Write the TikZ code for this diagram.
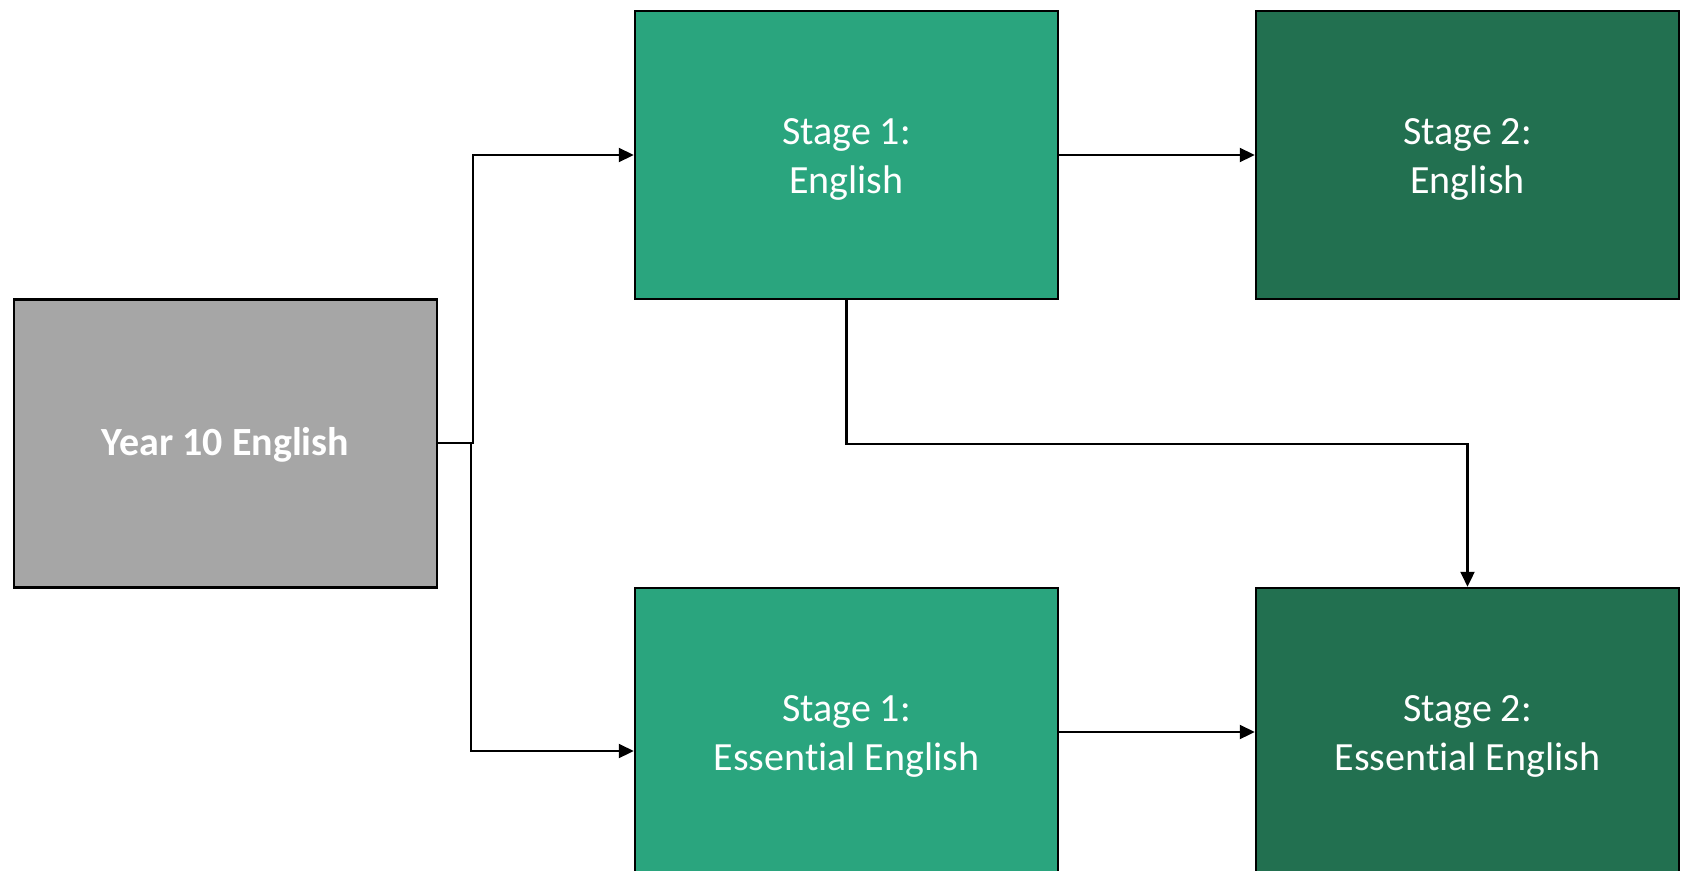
\documentclass[tikz,border=0pt]{standalone}
\usepackage{fontspec}
\setmainfont{Carlito}[Ligatures=NoCommon]
\usetikzlibrary{arrows.meta,calc}
\definecolor{greyfill}{RGB}{166,166,166}
\definecolor{stageone}{RGB}{42,165,126}
\definecolor{stagetwo}{RGB}{34,112,80}
\newcommand\boxtxt[2]{\raisebox{#1}[\height][\depth]{\begin{tabular}{@{}c@{}}#2\end{tabular}}}
\tikzset{
  box/.style={draw=black, line width=2.5pt, minimum width=423pt, minimum height=288pt,
    inner sep=0pt, align=center, text=white, font=\fontsize{40}{49}\selectfont},
  conn/.style={draw=black, line width=2.2pt, -{Triangle[length=15pt,width=14pt]}}
}
\begin{document}
\begin{tikzpicture}[x=1pt,y=-1pt]
\useasboundingbox (0,0) rectangle (1685,870);
\clip (0,0) rectangle (1685,870);
\node[box, fill=greyfill, font=\fontsize{40}{49}\selectfont\bfseries] (y10) at (225.5,443.5) {\boxtxt{-2pt}{Year 10 English}};
\node[box, fill=stageone] (s1e) at (846.5,155) {\boxtxt{-4pt}{Stage 1:\\English}};
\node[box, fill=stagetwo] (s2e) at (1467.5,155) {\boxtxt{-4pt}{Stage 2:\\English}};
\node[box, fill=stageone] (s1ee) at (846.5,732) {\boxtxt{-4pt}{Stage 1:\\Essential English}};
\node[box, fill=stagetwo] (s2ee) at (1467.5,732) {\boxtxt{-4pt}{Stage 2:\\Essential English}};
\coordinate (j1) at (473,443);
\coordinate (j2) at (471,443);
\coordinate (e2) at ($(s1ee.west)+(0,19)$);
\draw[conn] (y10.east |- j1) -- (j1) |- (s1e.west);
\draw[conn] (y10.east |- j2) -- (j2) |- (e2);
\draw[conn] (s1e.east) -- (s2e.west);
\draw[conn] (s1ee.east) -- (s2ee.west);
\draw[conn] (s1e.south) -- ++(0,144) -| (s2ee.north);
\end{tikzpicture}
\end{document}
